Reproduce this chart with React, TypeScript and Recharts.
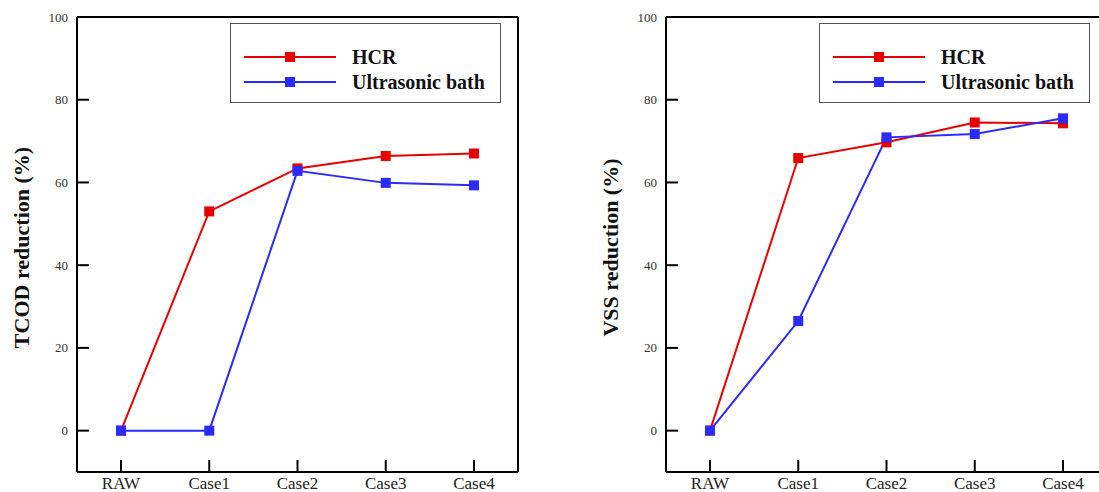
import React from 'react';
import { LineChart, Line, XAxis, YAxis, Legend, Label, CartesianGrid } from 'recharts';

const categories = ['RAW', 'Case1', 'Case2', 'Case3', 'Case4'];
const tcodHCR = [0, 53.0, 63.4, 66.4, 67.0];
const tcodUltra = [0, 0, 62.8, 59.9, 59.3];
const vssHCR = [0, 65.9, 69.7, 74.5, 74.3];
const vssUltra = [0, 26.5, 70.9, 71.7, 75.5];
const yTicks = [0, 20, 40, 60, 80, 100];
const seriesNames = ['HCR', 'Ultrasonic bath'];

const RED = '#e60000';
const BLUE = '#2b2bff';
const FONT = '"Liberation Serif", "Times New Roman", serif';

const CHART_W = 560;
const CHART_H = 492;
const MARGIN = { top: 16, right: 41, bottom: 0, left: 0 };
const X_AXIS_H = 20;
const TOP_AXIS_H = 1;
const PLOT_H = CHART_H - MARGIN.top - MARGIN.bottom - X_AXIS_H - TOP_AXIS_H;
const TICK_LEN = 12;
const DASH_GAP = 3000;

const square = (color: string) => (props: any) => {
  const { cx, cy, index } = props;
  if (cx == null || cy == null) return <g key={`n-${index}`} />;
  return <rect key={`sq-${index}`} x={cx - 5} y={cy - 5} width={10} height={10} fill={color} />;
};

const renderXTick = (props: any) => {
  const x = Number(props.x);
  const y = Number(props.y);
  return (
    <text x={x} y={y + 17} textAnchor="middle" fontFamily={FONT} fontSize={17} fill="#222" stroke="none">
      {props.payload.value}
    </text>
  );
};

const renderYTick = (props: any) => {
  const x = Number(props.x);
  const y = Number(props.y);
  return (
    <text x={x - 9} y={y} dy="0.35em" textAnchor="end" fontFamily={FONT} fontSize={13} fill="#333" stroke="none">
      {props.payload.value}
    </text>
  );
};

const LegendBox = (props: any) => {
  const { payload } = props;
  return (
    <div
      style={{
        position: 'relative',
        width: 271,
        height: 80,
        boxSizing: 'border-box',
        border: '1px solid #555',
        background: '#fff',
      }}
    >
      {(payload || []).map((entry: any, i: number) => (
        <div
          key={entry.value}
          style={{
            position: 'absolute',
            left: 0,
            top: (i === 0 ? 33 : 57.5) - 12,
            height: 24,
            width: 271,
          }}
        >
          <svg width={92} height={24} style={{ position: 'absolute', left: 13, top: 0 }}>
            <line x1={0} y1={12} x2={92} y2={12} stroke={entry.color} strokeWidth={2} />
            <rect x={41} y={7} width={10} height={10} fill={entry.color} />
          </svg>
          <span
            style={{
              position: 'absolute',
              left: 121,
              top: 0,
              lineHeight: '24px',
              fontFamily: FONT,
              fontWeight: 'bold',
              fontSize: 20,
              color: '#111',
              whiteSpace: 'nowrap',
            }}
          >
            {entry.value}
          </span>
        </div>
      ))}
    </div>
  );
};

const Panel = ({ title, hcr, ultra, left }: { title: string; hcr: number[]; ultra: number[]; left: number }) => {
  const data = categories.map((c, i) => ({ cat: c, hcr: hcr[i], ultra: ultra[i] }));
  const titleContent = (p: any) => {
    const vb = p.viewBox || {};
    const cy = vb.y + vb.height / 2 + 3;
    const bx = vb.x + 28.5;
    return (
      <text
        x={bx}
        y={cy}
        transform={`rotate(-90, ${bx}, ${cy})`}
        textAnchor="middle"
        fontFamily={FONT}
        fontWeight="bold"
        fontSize={22}
        fill="#111"
      >
        {title}
      </text>
    );
  };
  return (
    <div style={{ position: 'absolute', left, top: 0 }}>
      <LineChart width={CHART_W} height={CHART_H} data={data} margin={MARGIN}>
        {/* inward y ticks: horizontal grid lines start at the left edge, only the first 12px drawn */}
        <CartesianGrid
          vertical={false}
          horizontal
          stroke="#000"
          strokeWidth={2}
          strokeDasharray={`${TICK_LEN} ${DASH_GAP}`}
        />
        {/* inward x ticks: vertical grid lines run top to bottom, only the last 12px drawn */}
        <CartesianGrid
          vertical
          horizontal={false}
          stroke="#000"
          strokeWidth={2}
          strokeDasharray={`${TICK_LEN} ${DASH_GAP}`}
          strokeDashoffset={TICK_LEN + DASH_GAP - (PLOT_H - TICK_LEN)}
        />
        <XAxis
          dataKey="cat"
          padding={{ left: 44, right: 44 }}
          height={X_AXIS_H}
          axisLine={{ stroke: '#000', strokeWidth: 2 }}
          tickLine={false}
          tickSize={0}
          tickMargin={0}
          tick={renderXTick}
          interval={0}
        />
        <XAxis
          xAxisId="top"
          dataKey="cat"
          orientation="top"
          height={TOP_AXIS_H}
          tick={false}
          tickLine={false}
          axisLine={{ stroke: '#000', strokeWidth: 2 }}
        />
        <YAxis
          domain={[-10, 100]}
          ticks={yTicks}
          width={77}
          axisLine={{ stroke: '#000', strokeWidth: 2 }}
          tickLine={false}
          tickSize={0}
          tickMargin={0}
          tick={renderYTick}
          interval={0}
        >
          <Label content={titleContent} />
        </YAxis>
        <YAxis
          yAxisId="right"
          orientation="right"
          width={1}
          domain={[-10, 100]}
          tick={false}
          tickLine={false}
          axisLine={{ stroke: '#000', strokeWidth: 2 }}
        />
        <Legend
          layout="vertical"
          align="center"
          verticalAlign="middle"
          content={<LegendBox />}
          wrapperStyle={{ position: 'absolute', left: 230, top: 23, width: 271, height: 80 }}
        />
        <Line
          dataKey="hcr"
          name={seriesNames[0]}
          stroke={RED}
          strokeWidth={2}
          dot={square(RED)}
          activeDot={false}
          isAnimationActive={false}
        />
        <Line
          dataKey="ultra"
          name={seriesNames[1]}
          stroke={BLUE}
          strokeWidth={2}
          dot={square(BLUE)}
          activeDot={false}
          isAnimationActive={false}
        />
      </LineChart>
    </div>
  );
};

export default function App() {
  return (
    <div
      style={{
        position: 'fixed',
        left: 0,
        top: 0,
        width: 1099,
        height: 492,
        overflow: 'hidden',
        background: '#fff',
      }}
    >
      <Panel title="TCOD reduction (%)" hcr={tcodHCR} ultra={tcodUltra} left={0} />
      <Panel title="VSS reduction (%)" hcr={vssHCR} ultra={vssUltra} left={589} />
    </div>
  );
}
